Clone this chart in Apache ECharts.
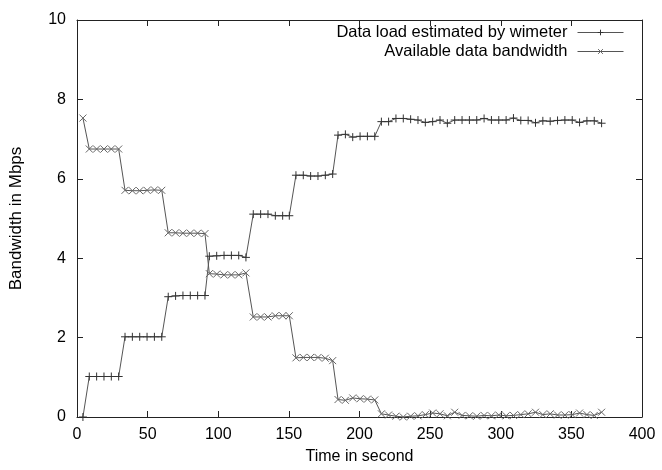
<!DOCTYPE html>
<html>
<head>
<meta charset="utf-8">
<script src="https://cdn.jsdelivr.net/npm/echarts@6/dist/echarts.min.js"></script>
<style>html,body{margin:0;padding:0;background:#fff}#c{width:662px;height:470px}</style>
</head>
<body>
<div id="c"></div>
<script>
var seriesNames = ['Data load estimated by wimeter', 'Available data bandwidth'];
var xTitle = 'Time in second';
var yTitle = 'Bandwidth in Mbps';
var times = [4.2, 8.7, 13.9, 19.1, 24.3, 29.5, 34.0, 39.2, 44.4, 49.6, 54.8, 60.0, 64.6, 69.8, 75.0, 80.2, 85.4, 90.6, 93.7, 98.9, 104.1, 109.3, 114.5, 119.6, 124.8, 130.0, 135.2, 140.4, 145.6, 150.3, 155.0, 160.2, 165.4, 170.6, 175.8, 181.0, 184.8, 190.0, 195.2, 200.4, 205.6, 210.8, 215.5, 220.6, 225.8, 231.0, 236.2, 241.4, 246.6, 251.8, 257.0, 262.2, 267.4, 272.6, 277.8, 283.0, 288.2, 293.4, 298.6, 303.8, 309.0, 314.2, 319.4, 324.6, 329.8, 335.0, 340.2, 345.4, 350.6, 355.8, 361.0, 366.2, 371.4];
var loadValues = [0.0,
  1.02, 1.02, 1.02, 1.02, 1.02,
  2.02, 2.02, 2.02, 2.02, 2.02, 2.02,
  3.03, 3.05, 3.06, 3.06, 3.06, 3.06,
  4.05, 4.06, 4.07, 4.07, 4.07, 4.02,
  5.11, 5.11, 5.11, 5.07, 5.07, 5.07,
  6.09, 6.09, 6.07, 6.07, 6.09, 6.12,
  7.10, 7.12, 7.05, 7.07, 7.07, 7.07,
  7.44, 7.44, 7.52, 7.52, 7.50, 7.48, 7.42, 7.44, 7.48, 7.40, 7.48, 7.48, 7.48, 7.48, 7.52, 7.48, 7.48, 7.48, 7.53, 7.47, 7.47, 7.41, 7.46, 7.45, 7.47, 7.48, 7.48, 7.42, 7.46, 7.46, 7.40];
var availValues = [7.53,
  6.75, 6.75, 6.75, 6.75, 6.75,
  5.71, 5.70, 5.70, 5.71, 5.72, 5.71,
  4.64, 4.64, 4.63, 4.63, 4.63, 4.62,
  3.61, 3.60, 3.58, 3.58, 3.58, 3.63,
  2.52, 2.52, 2.52, 2.55, 2.55, 2.55,
  1.49, 1.50, 1.50, 1.50, 1.48, 1.42,
  0.44, 0.42, 0.48, 0.46, 0.45, 0.43,
  0.08, 0.05, 0.02, 0.00, 0.02, 0.03, 0.06, 0.10, 0.08, 0.03, 0.12, 0.04, 0.03, 0.02, 0.04, 0.03, 0.05, 0.03, 0.04, 0.06, 0.08, 0.12, 0.06, 0.08, 0.05, 0.05, 0.06, 0.10, 0.06, 0.04, 0.12];

function pairs(vals) { return times.map(function (t, i) { return [t, vals[i]]; }); }

var FONT = 'Liberation Sans';
var AXC = '#222';
var chart = echarts.init(document.getElementById('c'), null, {renderer: 'canvas'});
var tickStyle = {show: true, inside: true, length: 6, lineStyle: {color: AXC, width: 1}};
var lineAx = {show: true, onZero: false, lineStyle: {color: AXC, width: 1}};
var lbl = {color: '#000', fontFamily: FONT, fontSize: 16};
var plusPath = 'path://M5,0 L5,10 M0,5 L10,5';
var crossPath = 'path://M0,0 L10,10 M10,0 L0,10';
var legendText = {color: '#000', fontFamily: FONT, fontSize: 16.5, padding: [0, 5, 0, 0]};

chart.setOption({
  animation: false,
  backgroundColor: '#fff',
  grid: {left: 76, right: 20, top: 20, bottom: 50, containLabel: false},
  legend: [
    {data: [seriesNames[0]], right: 38, top: 24, padding: 0, itemWidth: 46, itemHeight: 7,
     align: 'right', textStyle: legendText,
     lineStyle: {width: 1, color: '#555'}, itemStyle: {borderWidth: 1}},
    {data: [seriesNames[1]], right: 38, top: 43, padding: 0, itemWidth: 46, itemHeight: 6,
     align: 'right', textStyle: legendText,
     lineStyle: {width: 1, color: '#555'}, itemStyle: {borderWidth: 1}}
  ],
  xAxis: [
    {type: 'value', min: 0, max: 400, interval: 50, position: 'bottom',
     axisLine: lineAx, axisTick: tickStyle, splitLine: {show: false},
     axisLabel: Object.assign({margin: 10}, lbl),
     name: xTitle, nameLocation: 'middle', nameGap: 32,
     nameTextStyle: {color: '#000', fontFamily: FONT, fontSize: 16}},
    {type: 'value', min: 0, max: 400, interval: 50, position: 'top',
     axisLine: lineAx, axisTick: tickStyle, splitLine: {show: false}, axisLabel: {show: false}}
  ],
  yAxis: [
    {type: 'value', min: 0, max: 10, interval: 2, position: 'left',
     axisLine: lineAx, axisTick: tickStyle, splitLine: {show: false},
     axisLabel: Object.assign({margin: 11}, lbl),
     name: yTitle, nameLocation: 'middle', nameGap: 52,
     nameTextStyle: {color: '#000', fontFamily: FONT, fontSize: 17}},
    {type: 'value', min: 0, max: 10, interval: 2, position: 'right',
     axisLine: lineAx, axisTick: tickStyle, splitLine: {show: false}, axisLabel: {show: false}}
  ],
  series: [
    {name: seriesNames[0], type: 'line', data: pairs(loadValues),
     symbol: plusPath, symbolSize: 8, showSymbol: true, showAllSymbol: true,
     lineStyle: {color: '#555', width: 1},
     itemStyle: {color: 'rgba(0,0,0,0)', borderColor: '#333', borderWidth: 1}},
    {name: seriesNames[1], type: 'line', data: pairs(availValues),
     symbol: crossPath, symbolSize: 7, showSymbol: true, showAllSymbol: true,
     lineStyle: {color: '#555', width: 1},
     itemStyle: {color: 'rgba(0,0,0,0)', borderColor: '#666', borderWidth: 1}}
  ]
});
</script>
</body>
</html>
